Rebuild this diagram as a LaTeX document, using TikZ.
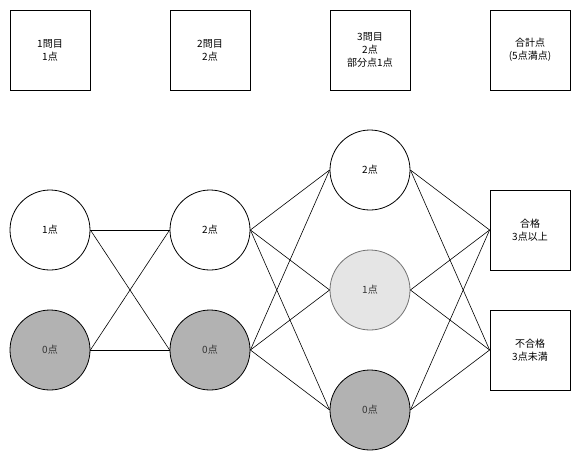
\documentclass[tikz,border=0pt]{standalone}
\usepackage{fontspec}
\setmainfont{Noto Sans CJK JP}

\begin{document}
\begin{tikzpicture}[x=1pt, y=-1pt, line width=0.8pt,
    every node/.style={font=\fontsize{10}{13}\selectfont, align=center},
    headbox/.style={draw, rectangle, minimum width=80pt, minimum height=80pt},
    score/.style={draw, circle, minimum size=80pt, inner sep=0pt},
    zero/.style={score, fill=black!30, text=black!80},
    part/.style={score, fill=black!10, draw=black!55, text=black!80},
    link/.style={line width=0.6pt}]
    \useasboundingbox (0,0) rectangle (581,461);

    % Header boxes
    \node[headbox] (q1) at (50,50) {1問目\\1点};
    \node[headbox] (q2) at (210,50) {2問目\\2点};
    \node[headbox] (q3) at (370,50) {3問目\\2点\\部分点1点};
    \node[headbox] (total) at (530,50) {合計点\\(5点満点)};

    % Question 1
    \node[score] (a1) at (50,230) {1点};
    \node[zero] (a0) at (50,350) {0点};

    % Question 2
    \node[score] (b2) at (210,230) {2点};
    \node[zero] (b0) at (210,350) {0点};

    % Question 3
    \node[score] (c2) at (370,170) {2点};
    \node[part] (c1) at (370,290) {1点};
    \node[zero] (c0) at (370,410) {0点};

    % Result boxes
    \node[headbox] (pass) at (530,230) {合格\\3点以上};
    \node[headbox] (fail) at (530,350) {不合格\\3点未満};

    % Links from question 1 to question 2
    \foreach \s in {a1,a0}
        \foreach \t in {b2,b0}
            \draw[link] (\s.east) -- (\t.west);

    % Links from question 2 to question 3
    \foreach \s in {b2,b0}
        \foreach \t in {c2,c1,c0}
            \draw[link] (\s.east) -- (\t.west);

    % Links from question 3 to result
    \foreach \s in {c2,c1,c0}
        \foreach \t in {pass,fail}
            \draw[link] (\s.east) -- (\t.west);
\end{tikzpicture}
\end{document}
